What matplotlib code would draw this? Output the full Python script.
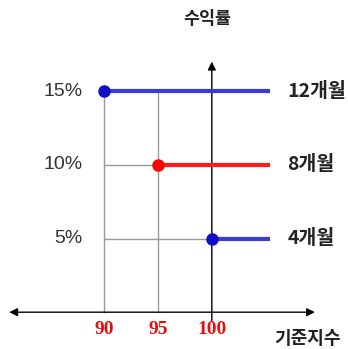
import matplotlib.pyplot as plt

plt.rcParams['font.family'] = ['Noto Sans CJK KR', 'DejaVu Sans']

# data
index_ticks = [90, 95, 100]
rates = [15, 10, 5]
starts = [90, 95, 100]
labels = ['12개월', '8개월', '4개월']
line_colors = ['#3a3ad6', '#ff1a1a', '#3a3ad6']
dot_colors = ['#1010c8', '#ff0000', '#1010c8']
line_end = 105.4

fig = plt.figure(figsize=(3.48, 3.49), dpi=100)
ax = fig.add_axes([0, 0, 1, 1])
ax.set_xlim(80.4, 112.6)
ax.set_ylim(-2.5, 21.2)
ax.axis('off')

# guide lines
for x0, r in zip(starts, rates):
    ax.plot([90, x0], [r, r], color='#999999', lw=1, zorder=1)
ax.plot([90, 90], [0, 15], color='#999999', lw=1, zorder=1)
ax.plot([95, 95], [0, 15], color='#999999', lw=1, zorder=1)

# axes arrows
ax.annotate('', xy=(81.0, 0), xytext=(109.8, 0),
            arrowprops=dict(arrowstyle='<|-|>', color='black', lw=1, mutation_scale=12))
ax.annotate('', xy=(100, 17.2), xytext=(100, -0.8),
            arrowprops=dict(arrowstyle='-|>', color='black', lw=1, mutation_scale=12))

# payoff lines
for x0, r, lab, lc, dc in zip(starts, rates, labels, line_colors, dot_colors):
    ax.plot([x0, line_end], [r, r], color=lc, lw=3, zorder=3, solid_capstyle='butt')
    ax.plot(x0, r, 'o', color=dc, ms=8, zorder=4)
    ax.text(line_end + 1.6, r, lab, fontsize=14, fontweight='bold', color='#222222',
            ha='left', va='center')
    ax.text(88.0, r, f'{r}%', fontsize=14, color='#333333', ha='right', va='center',
            family='Liberation Sans')

for t in index_ticks:
    ax.text(t, -1.15, str(t), fontsize=14, fontweight='bold', color='#e01010',
            ha='center', va='center', family='Liberation Serif')

ax.text(99.6, 19.9, '수익률', fontsize=12.5, fontweight='bold', color='#222222',
        ha='center', va='center')
ax.text(108.9, -1.8, '기준지수', fontsize=13, fontweight='bold', color='#222222',
        ha='center', va='center')

fig.savefig('out.png', dpi=100)
